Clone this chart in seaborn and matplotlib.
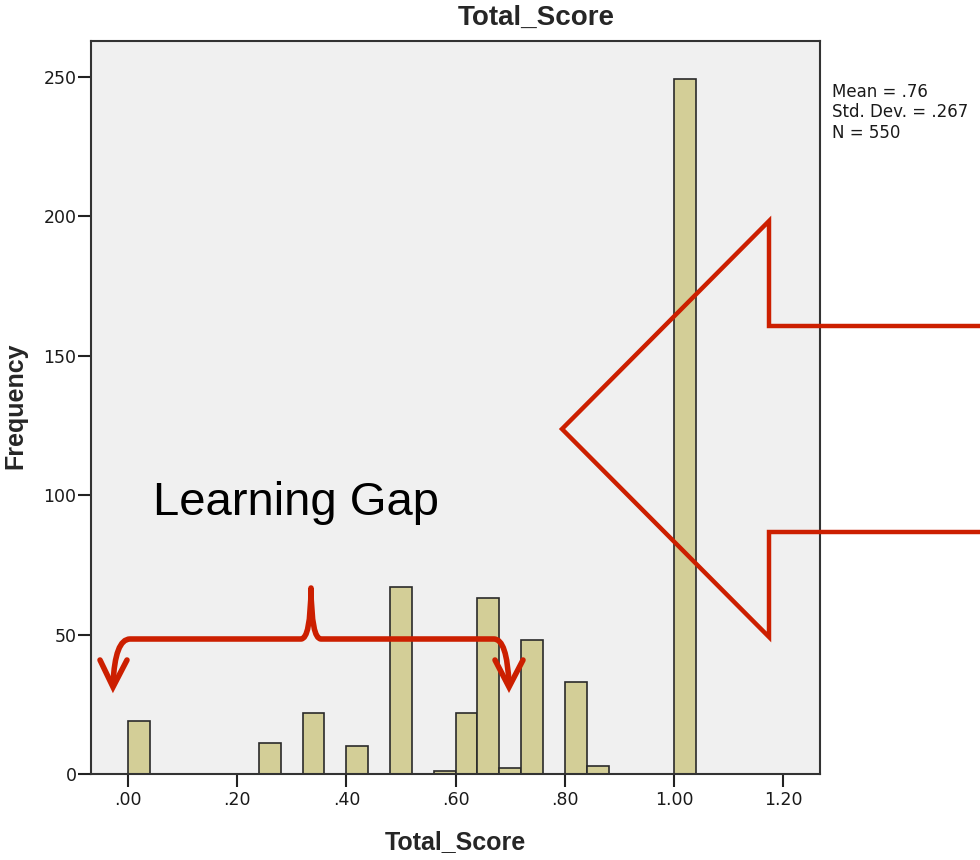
import numpy as np
import pandas as pd
import matplotlib
matplotlib.use("Agg")
import matplotlib.pyplot as plt
from matplotlib.path import Path
from matplotlib.patches import PathPatch, Polygon
import seaborn as sns

# Histogram data (bin centres of width .04 and their counts)
scores = [0.02, 0.26, 0.34, 0.42, 0.50, 0.58, 0.62, 0.66, 0.70, 0.74, 0.82, 0.86, 1.02]
freqs = [19, 11, 22, 10, 67, 1, 22, 63, 2, 48, 33, 3, 249]
x_ticks = [0.0, 0.2, 0.4, 0.6, 0.8, 1.0, 1.2]
x_tick_labels = ['.00', '.20', '.40', '.60', '.80', '1.00', '1.20']
y_ticks = [0, 50, 100, 150, 200, 250]
stats_text = "Mean = .76\nStd. Dev. = .267\nN = 550"

df = pd.DataFrame({'Total_Score': scores, 'count': freqs})

sns.set_style("ticks")
plt.rcParams['font.family'] = ['DejaVu Sans']
arial = 'Liberation Sans'

fig = plt.figure(figsize=(9.8, 8.6), dpi=100)
ax = fig.add_axes([91 / 980, 86 / 860, 729 / 980, 733 / 860])
ax.set_facecolor('#F0F0F0')

sns.histplot(data=df, x='Total_Score', weights='count', binwidth=0.04, binrange=(0, 1.04),
             ax=ax, color='#D3CE97', edgecolor='#2a2a2a', linewidth=1.2, alpha=1)

ax.set_xlim(-0.0672, 1.2668)
ax.set_ylim(0, 262.8)
ax.set_xticks(x_ticks)
ax.set_xticklabels(x_tick_labels)
ax.set_yticks(y_ticks)
ax.tick_params(axis='both', direction='out', length=9.5, width=1.5, color='#222222',
               labelsize=12.5, labelcolor='#1a1a1a')
ax.tick_params(axis='x', pad=3)
ax.tick_params(axis='y', pad=1)
for s in ax.spines.values():
    s.set_visible(True)
    s.set_color('#333333')
    s.set_linewidth(1.5)
ax.set_xlabel('')
ax.set_ylabel('')

# overlay in pixel coords for titles and annotations
ov = fig.add_axes([0, 0, 1, 1])
ov.set_xlim(0, 980)
ov.set_ylim(860, 0)
ov.axis('off')
ov.patch.set_alpha(0)

ov.text(536, 18, 'Total_Score', ha='center', va='center', fontsize=20, fontweight='bold', family=arial)
ov.text(455, 842, 'Total_Score', ha='center', va='center', fontsize=18, fontweight='bold', family=arial)
ov.text(15, 406, 'Frequency', ha='center', va='center', rotation=90, fontsize=18,
        fontweight='bold', family=arial)
ov.text(832, 83, stats_text, ha='left', va='top', fontsize=12,
        color='#1a1a1a', linespacing=1.17)

ov.text(153, 515, 'Learning Gap', ha='left', va='baseline', fontsize=34, color='black', family=arial)

red = '#CC1F00'
# big hollow arrow
arrow = [(990, 326), (769, 326), (769, 221), (562, 429), (769, 637), (769, 532), (990, 532)]
ov.add_patch(Polygon(arrow, closed=False, fill=False, edgecolor=red, linewidth=3.2,
                     joinstyle='miter', clip_on=False))

# brace with curled ends
verts = [(113, 684), (115, 639), (130, 639),
         (301, 639), (310.5, 639), (311, 588), (311.5, 639), (321, 639),
         (494, 639), (507, 639), (509, 684)]
codes = [Path.MOVETO, Path.CURVE3, Path.CURVE3,
         Path.LINETO, Path.CURVE3, Path.CURVE3, Path.CURVE3, Path.CURVE3,
         Path.LINETO, Path.CURVE3, Path.CURVE3]
ov.add_patch(PathPatch(Path(verts, codes), fill=False, edgecolor=red, linewidth=4,
                       capstyle='round', joinstyle='round'))
ov.plot([100, 113, 127], [660, 687, 660], color=red, linewidth=4, solid_joinstyle='miter')
ov.plot([495, 509, 523], [660, 687, 660], color=red, linewidth=4, solid_joinstyle='miter')

fig.savefig('out.png', dpi=100, facecolor='white')
